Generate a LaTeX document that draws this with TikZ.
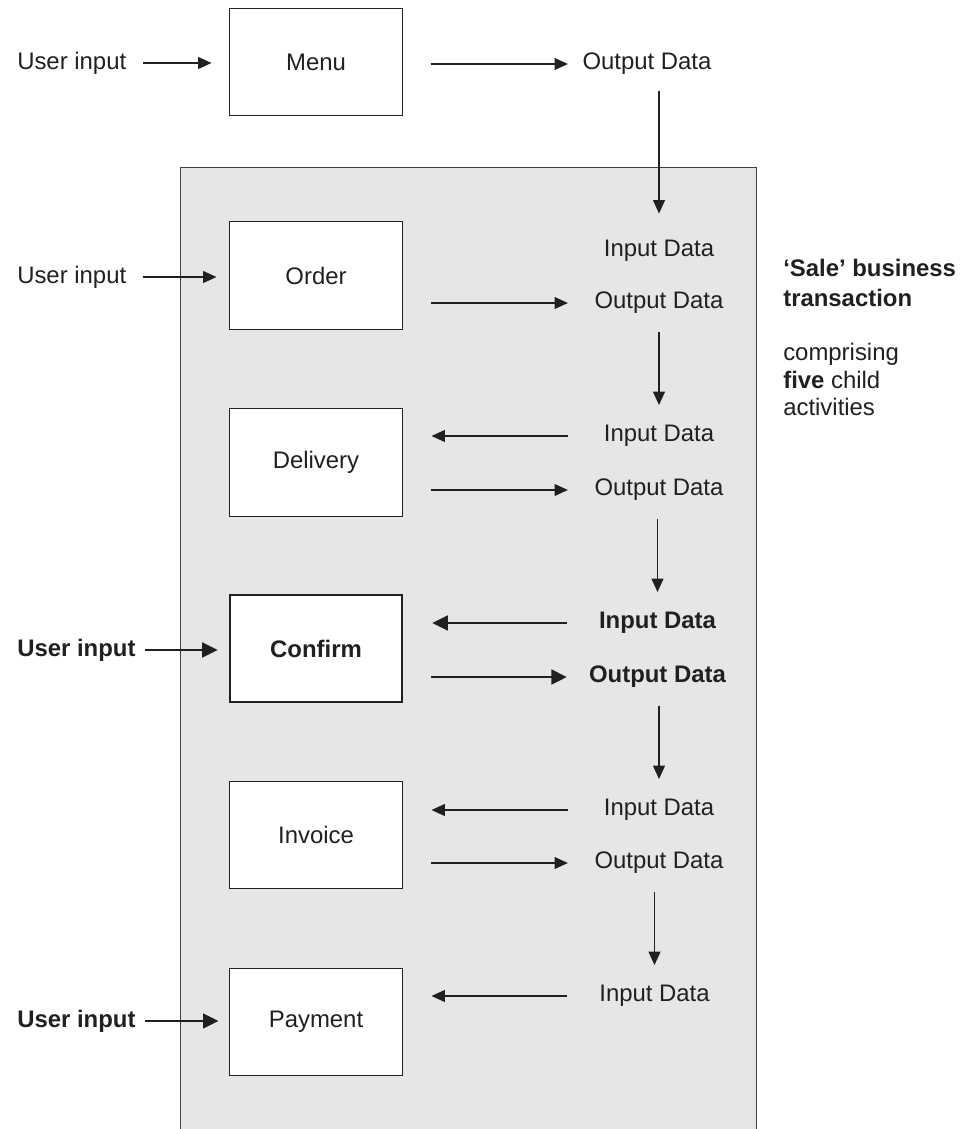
\documentclass[tikz,border=0pt]{standalone}
\usepackage{fontspec}
\setmainfont{Liberation Sans}
\usetikzlibrary{arrows.meta}
\definecolor{panelgray}{RGB}{229,230,232}
\definecolor{ink}{RGB}{35,31,32}

\begin{document}
\begin{tikzpicture}[x=0.025cm, y=-0.025cm,
        every node/.style={font=\fontsize{17}{21}\selectfont, text=ink},
        lbl/.style={inner sep=0pt},
        activity/.style={draw=ink, line width=0.7pt, fill=white, inner sep=0pt,
            minimum width=4.3cm, minimum height=2.675cm},
        keyactivity/.style={activity, line width=1.9pt},
        flow/.style={draw=ink, line width=0.75pt, -{Triangle[length=9.5pt,width=8.5pt]}},
        boldflow/.style={draw=ink, line width=1.7pt, -{Triangle[length=11pt,width=10.5pt]}},
        outflow/.style={flow, shorten <=0.7cm, shorten >=0.66cm},
        inflow/.style={flow, shorten <=0.9cm, shorten >=0.725cm},
        downflow/.style={flow, shorten <=0.44cm, shorten >=0.5cm}]
            \useasboundingbox (0,0) rectangle (960,1129);

            \fill [panelgray] (180,167) rectangle (756,1129);
            \draw [ink!85, line width=0.6pt] (180,1129) |- (756,167) -- (756,1129);

            \node [activity] (menu) at (316,62) {Menu};
            \node [activity] (order) at (316,275.5) {Order};
            \node [activity] (delivery) at (316,462.5) {Delivery};
            \node [keyactivity] (confirm) at (316,648.5) {\bfseries Confirm};
            \node [activity] (invoice) at (316,835) {Invoice};
            \node [activity] (payment) at (316,1022) {Payment};

            \node [lbl, anchor=west] (usrmenu) at (17,63) {User input};
            \node [lbl, anchor=west] (usrorder) at (17,277) {User input};
            \node [lbl, anchor=west] (usrconfirm) at (17,650) {\bfseries User input};
            \node [lbl, anchor=west] (usrpayment) at (17,1021) {\bfseries User input};

            \node [lbl] (outmenu) at (647,64) {Output Data};
            \node [lbl] (inorder) at (659,250.5) {Input Data};
            \node [lbl] (outorder) at (659,303) {Output Data};
            \node [lbl] (indelivery) at (659,436) {Input Data};
            \node [lbl] (outdelivery) at (659,490) {Output Data};
            \node [lbl] (inconfirm) at (657.5,623) {\bfseries Input Data};
            \node [lbl] (outconfirm) at (657.5,677) {\bfseries Output Data};
            \node [lbl] (ininvoice) at (659,810) {Input Data};
            \node [lbl] (outinvoice) at (659,863) {Output Data};
            \node [lbl] (inpayment) at (654.5,996) {Input Data};

            \node [lbl, anchor=north west, align=left] (sale) at (783,259)
                {\bfseries `Sale' business\\ \bfseries transaction};
            \node [lbl, anchor=north west, align=left, font=\fontsize{17}{19.6}\selectfont] (five) at (783,343)
                {comprising\\ \textbf{five} child\\ activities};

            \draw [flow, shorten <=0.4cm, shorten >=0.45cm] (usrmenu.east) -- (usrmenu -| menu.west);
            \draw [flow, shorten <=0.4cm, shorten >=0.325cm] (usrorder.east) -- (usrorder -| order.west);
            \draw [boldflow, shorten <=0.225cm, shorten >=0.275cm] (usrconfirm.east) -- (usrconfirm -| confirm.west);
            \draw [boldflow, shorten <=0.225cm, shorten >=0.275cm] (usrpayment.east) -- (usrpayment -| payment.west);

            \draw [outflow, shorten >=0.36cm] (menu.east |- outmenu) -- (outmenu.west);
            \draw [outflow] (order.east |- outorder) -- (outorder.west);
            \draw [inflow] (indelivery.west) -- (delivery.east |- indelivery);
            \draw [outflow] (delivery.east |- outdelivery) -- (outdelivery.west);
            \draw [boldflow, shorten <=0.8cm, shorten >=0.725cm] (inconfirm.west) -- (confirm.east |- inconfirm);
            \draw [boldflow, shorten <=0.7cm, shorten >=0.55cm] (confirm.east |- outconfirm) -- (outconfirm.west);
            \draw [inflow] (ininvoice.west) -- (invoice.east |- ininvoice);
            \draw [outflow] (invoice.east |- outinvoice) -- (outinvoice.west);
            \draw [inflow, shorten <=0.8cm] (inpayment.west) -- (payment.east |- inpayment);

            \draw [downflow, shorten <=0.39cm, shorten >=0.65cm] (inorder |- outmenu.south) -- (inorder.north);
            \draw [downflow] (indelivery |- outorder.south) -- (indelivery.north);
            \draw [downflow] (inconfirm |- outdelivery.south) -- (inconfirm.north);
            \draw [downflow] (ininvoice |- outconfirm.south) -- (ininvoice.north);
            \draw [downflow] (inpayment |- outinvoice.south) -- (inpayment.north);
        \end{tikzpicture}
\end{document}
